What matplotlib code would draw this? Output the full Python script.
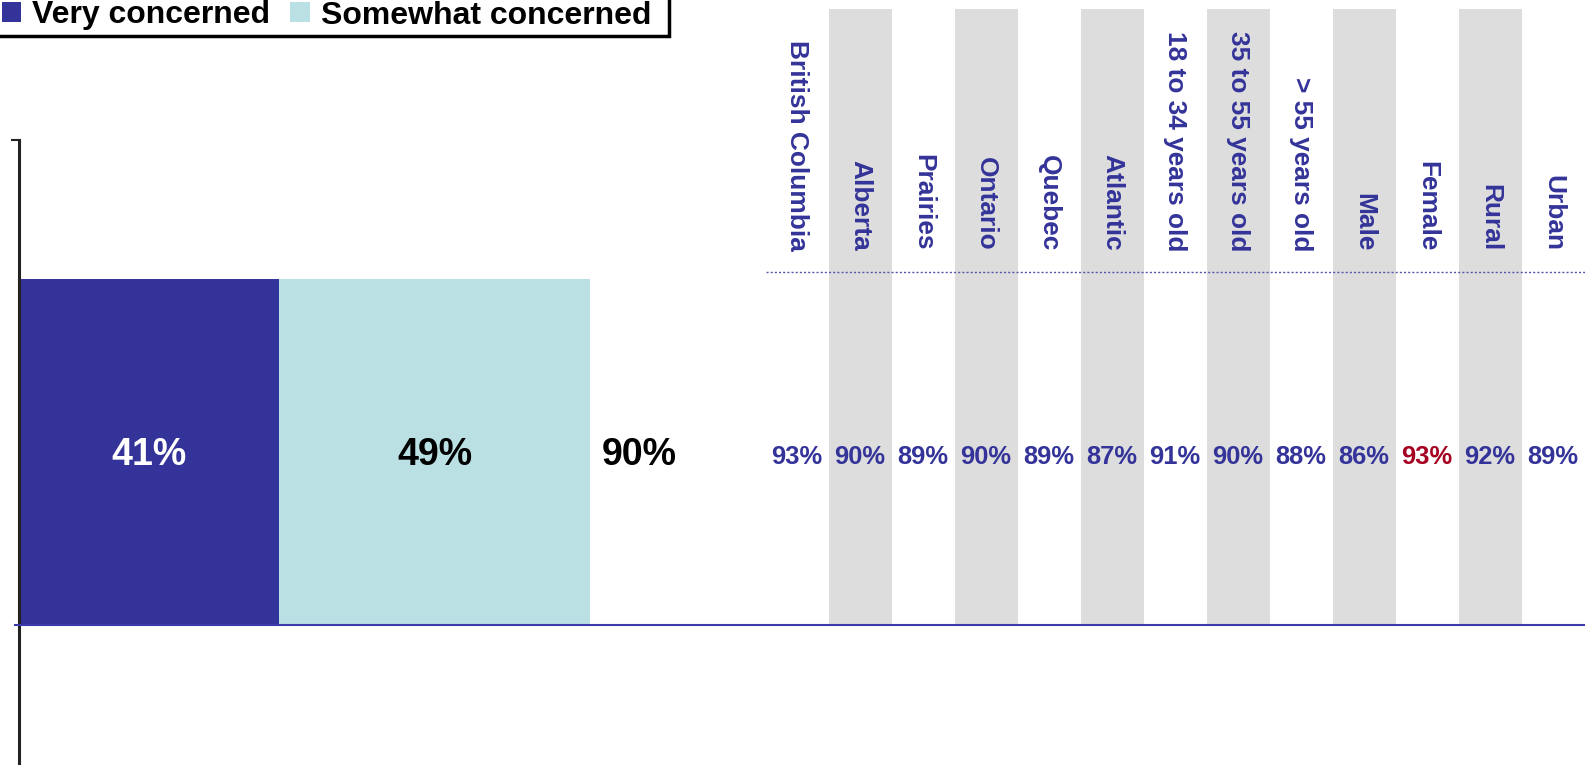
import matplotlib
matplotlib.use("Agg")
import matplotlib.pyplot as plt
from matplotlib.patches import Patch, Rectangle

plt.rcParams['font.family'] = ['Liberation Sans', 'DejaVu Sans']
plt.rcParams['font.weight'] = 'bold'

# ---- data ----
series_names = ["Very concerned", "Somewhat concerned"]
series_values = [41, 49]
total_value = 90
groups = ["British Columbia", "Alberta", "Prairies", "Ontario", "Quebec", "Atlantic",
          "18 to 34 years old", "35 to 55 years old", "> 55 years old",
          "Male", "Female", "Rural", "Urban"]
group_values = [93, 90, 89, 90, 89, 87, 91, 90, 88, 86, 93, 92, 89]
highlight = ["Female"]

# ---- style ----
DARK = "#333399"
LIGHT = "#BAE0E3"
GRAY = "#DDDDDD"
RED = "#A50021"

W, H = 1585, 765
fig = plt.figure(figsize=(W / 100, H / 100), dpi=100)

# main stacked bar axes
ax_left = 19.2
ax_top = 140
ax = fig.add_axes([ax_left / W, 0, (W - ax_left) / W, (H - ax_top) / H])
ax.set_zorder(2)
ax.patch.set_alpha(0)
px_per_pct = 6.347
ax.set_xlim(0, (W - ax_left) / px_per_pct)
bar_px = 346.0
lower = -0.5 - 140 / bar_px
ax.set_ylim(lower, lower + (H - ax_top) / bar_px)

left = 0
colors = [DARK, LIGHT]
txtcol = ["white", "black"]
for v, c, tc in zip(series_values, colors, txtcol):
    ax.barh(0, v, left=left, height=1.0, color=c, edgecolor='none')
    ax.annotate(f"{v}%", xy=(left + v / 2, 0), xytext=(0, -0.358 * 27),
                textcoords='offset points', ha='center', va='baseline',
                fontsize=27, fontweight='bold', color=tc)
    left += v
ax.annotate(f"{total_value}%", xy=(total_value, 0), xytext=(11.5 * 0.72, -0.358 * 27),
            textcoords='offset points', ha='left', va='baseline',
            fontsize=27, fontweight='bold', color='black')

ax.axhline(-0.5, xmin=-0.003, color="#3A3AAA", lw=1.5, zorder=3, clip_on=False)

for s in ['top', 'right', 'bottom']:
    ax.spines[s].set_visible(False)
ax.spines['left'].set_linewidth(2.2)
ax.spines['left'].set_color('#222222')
ax.set_xticks([])
ax.set_yticks([ax.get_ylim()[1]])
ax.set_yticklabels([])
ax.tick_params(axis='y', length=6, width=1.5, color='#222222', direction='out')

# table axes
t_left, t_right = 765.5, 1584.5
t_top, t_bottom = 9, 625
tax = fig.add_axes([t_left / W, (H - t_bottom) / H, (t_right - t_left) / W, (t_bottom - t_top) / H])
tax.set_zorder(1)
n = len(groups)
tax.set_xlim(-0.5, n - 0.5)
tax.set_ylim(0, 1)
tax.axis('off')
idx = list(range(n))
tax.bar([i for i in idx if i % 2 == 1], 1, width=1.0, bottom=0, color=GRAY, edgecolor='none', zorder=0)
tax.axhline((t_bottom - 271.7) / (t_bottom - t_top), color="#5555AA", lw=1, ls=(0, (1.5, 1.5)), zorder=1)

label_end = (t_bottom - 251) / (t_bottom - t_top)
value_base = (t_bottom - 464) / (t_bottom - t_top)
for i, (g, v) in enumerate(zip(groups, group_values)):
    tax.text(i, label_end, g, rotation=270, ha='center', va='bottom', rotation_mode='default',
             fontsize=18.9, fontweight='bold', color=DARK)
    tax.text(i, value_base, f"{v}%", ha='center', va='baseline',
             fontsize=18.4, fontweight='bold', color=RED if g in highlight else DARK)

# legend (frame drawn separately so the text sits as in the reference)
handles = [Patch(facecolor=c, edgecolor='none', label=nm) for nm, c in zip(series_names, colors)]
leg = fig.legend(handles=handles, loc='lower left', bbox_to_anchor=(1.7 / W, 1 - 30.5 / H),
                 ncol=2, fontsize=23, frameon=False, borderpad=0, borderaxespad=0,
                 handlelength=0.6, handleheight=0.6, handletextpad=0.34, columnspacing=0.65)
for t in leg.get_texts():
    t.set_fontweight('bold')
fig.add_artist(Rectangle((-10 / W, 1 - 36 / H), (668.5 + 10) / W, 60 / H,
                         transform=fig.transFigure, facecolor='none', edgecolor='black',
                         lw=2.5, clip_on=False, zorder=5))

fig.savefig("out.png", dpi=100)
